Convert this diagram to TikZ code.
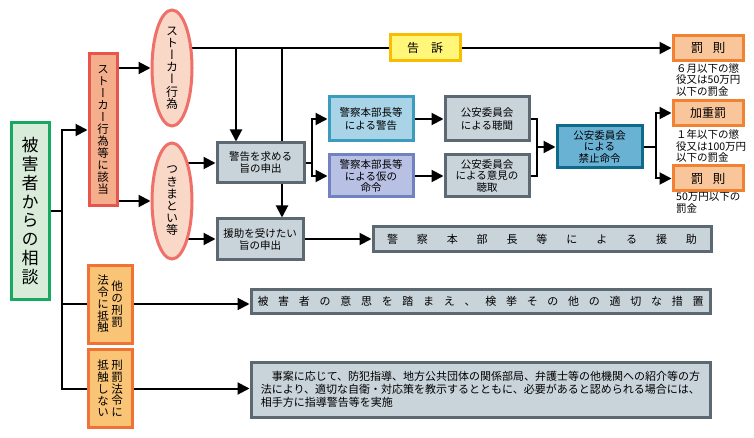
\documentclass[tikz,border=0pt]{standalone}
\usepackage{fontspec}
\setmainfont{Noto Sans CJK JP}
\newfontfamily\jpv[RawFeature=+vert]{Noto Sans CJK JP}
\usetikzlibrary{arrows.meta,shapes.geometric,backgrounds,calc}
\definecolor{greenb}{HTML}{18A862}
\definecolor{greenf}{HTML}{D8ECD9}
\definecolor{stalkb}{HTML}{E8554C}
\definecolor{stalkf}{HTML}{F4AE8C}
\definecolor{ellb}{HTML}{EE7068}
\definecolor{ellf}{HTML}{FAD8C8}
\definecolor{grayb}{HTML}{5C6872}
\definecolor{grayf}{HTML}{C9D3DA}
\definecolor{blueb}{HTML}{3C9CBE}
\definecolor{bluef}{HTML}{A9D4E8}
\definecolor{lavb}{HTML}{7082C2}
\definecolor{lavf}{HTML}{B8C0E4}
\definecolor{kinshib}{HTML}{0E6A8A}
\definecolor{kinshif}{HTML}{6AB2D4}
\definecolor{batsub}{HTML}{F08232}
\definecolor{batsuf}{HTML}{F9C59A}
\definecolor{orb}{HTML}{F07234}
\definecolor{orf}{HTML}{F9C476}
\definecolor{kokub}{HTML}{F8BC00}
\definecolor{kokuf}{HTML}{FFF67A}
\newcommand\fs[2]{\fontsize{#1}{#2}\selectfont}
\begin{document}
\begin{tikzpicture}[x=1pt,y=-1pt,
  ln/.style={line width=2pt,line cap=rect},
  arr/.style={line width=2pt,-{Triangle[length=12pt,width=12pt]}},
  bx/.style={draw,line width=3pt,inner sep=0pt,align=center},
  gbox/.style={bx,draw=grayb,fill=grayf,font=\fs{10.5}{12}},
  vt/.style={inner sep=0pt,align=center,font=\jpv\fs{12}{12.2}},
  ell/.style={ellipse,draw=ellb,fill=ellf,line width=3pt,minimum width=40pt,minimum height=116pt,inner sep=0pt},
  pbox/.style={bx,draw=batsub,fill=batsuf,minimum width=70pt,minimum height=25pt,font=\fs{12.5}{14}},
  obox/.style={bx,draw=orb,fill=orf,minimum width=44pt,minimum height=78pt},
  note/.style={inner sep=0pt,align=left,anchor=north west,font=\fs{10.5}{11.8}}
]
\useasboundingbox (0,0) rectangle (754,438);

% left
\node[bx,draw=greenb,fill=greenf,minimum width=38pt,minimum height=176pt] (main) at (30,211) {};
\node[vt,font=\jpv\fs{17}{18.8}] (maint) at (main.center) {被\\害\\者\\か\\ら\\の\\相\\談};

\node[bx,draw=stalkb,fill=stalkf,minimum width=28pt,minimum height=152pt] (stalk) at (103,130) {};
\node[vt,font=\jpv\fs{11.5}{12}] (stalkt) at (stalk.center) {ス\\ト\\ー\\カ\\ー\\行\\為\\等\\に\\該\\当};

\node[ell] (e1) at (172,68) {};
\node[vt] (e1t) at (e1.center) {ス\\ト\\ー\\カ\\ー\\行\\為};
\node[ell] (e2) at (172,201) {};
\node[vt] (e2t) at (e2.center) {つ\\き\\ま\\と\\い\\等};

\node[obox] (oth) at (110,304) {};
\node[vt,font=\jpv\fs{11.5}{11.8}] (othR) at ($(oth.center)+(7,0)$) {他\\の\\刑\\罰};
\node[vt,font=\jpv\fs{11.5}{11.8}] (othL) at ($(oth.center)+(-7,0)$) {法\\令\\に\\抵\\触};
\node[obox] (nai) at (110,388.5) {};
\node[vt,font=\jpv\fs{11.5}{11.8}] (naiR) at ($(nai.center)+(7,0)$) {刑\\罰\\法\\令\\に};
\node[vt,font=\jpv\fs{11.5}{11.8}] (naiL) at ($(nai.center)+(-7,0)$) {抵\\触\\し\\な\\い};

% middle
\node[gbox,minimum width=87pt,minimum height=40pt] (keikoku) at (260.5,163) {警告を求める\\旨の申出};
\node[gbox,minimum width=86pt,minimum height=40pt] (enjomo) at (260,239) {援助を受けたい\\旨の申出};
\node[gbox,draw=blueb,fill=bluef,minimum width=84pt,minimum height=44pt,font=\fs{10.5}{12.5}] (kblue) at (371,119) {警察本部長等\\による警告};
\node[gbox,draw=lavb,fill=lavf,minimum width=84pt,minimum height=42pt,font=\fs{10.5}{11.8}] (kari) at (371,176) {警察本部長等\\による仮の\\命令};
\node[gbox,minimum width=84pt,minimum height=44pt,font=\fs{10.5}{12.5}] (choumon) at (487,119) {公安委員会\\による聴聞};
\node[gbox,minimum width=84pt,minimum height=42pt,font=\fs{10.5}{11.8}] (choushu) at (487,176) {公安委員会\\による意見の\\聴取};
\node[gbox,draw=kinshib,fill=kinshif,minimum width=85pt,minimum height=42pt,font=\fs{10.5}{11.7}] (kinshi) at (599.5,147) {公安委員会\\による\\禁止命令};

\node[bx,draw=kokub,fill=kokuf,minimum width=70pt,minimum height=26pt,font=\fs{12}{14}] (koku) at (425,48) {告\hspace{12pt}訴};

% right
\node[pbox] (batsu1) at (708,48) {罰\hspace{9.5pt}則};
\node[pbox,font=\fs{12}{14}] (kaju) at (708,113) {加重罰};
\node[pbox] (batsu2) at (708,178.5) {罰\hspace{9.5pt}則};
\node[note] (n1) at (676,63) {６月以下の懲\\役又は50万円\\以下の罰金};
\node[note,font=\fs{10.5}{11.5}] (n2) at (676,129.5) {１年以下の懲\\役又は100万円\\以下の罰金};
\node[note] (n3) at (676,192.5) {50万円以下の\\罰金};

% wide boxes
\node[gbox,minimum width=338pt,minimum height=24pt,font=\fs{11}{13}] (enjo) at (542,239)
  {\hbox to 310pt{警\hfill 察\hfill 本\hfill 部\hfill 長\hfill 等\hfill に\hfill よ\hfill る\hfill 援\hfill 助}};
\node[gbox,minimum width=459pt,minimum height=24pt,font=\fs{11}{13}] (ishi) at (480.5,301)
  {\hbox to 446pt{被\hfill 害\hfill 者\hfill の\hfill 意\hfill 思\hfill を\hfill 踏\hfill ま\hfill え\hfill 、\hfill 検\hfill 挙\hfill そ\hfill の\hfill 他\hfill の\hfill 適\hfill 切\hfill な\hfill 措\hfill 置}};
\node[gbox,align=left,minimum width=459pt,minimum height=55pt,font=\fs{11}{13.3}] (jian) at (480.5,389.5)
  {　事案に応じて、防犯指導、地方公共団体の関係部局、弁護士等の他機関への紹介等の方\\法により、適切な自衛・対応策を教示するとともに、必要があると認められる場合には、\\相手方に指導警告等を実施};

% connector junctions
\coordinate (j1) at (236,48);
\coordinate (j2) at (282,48);
\coordinate (tx) at (62,0);
\coordinate (brx) at (312,0);
\coordinate (mx) at (537,0);
\coordinate (px) at (656,0);

\begin{pgfonlayer}{background}
\draw[arr] (batsu1.west -| e1.45) -- (batsu1.west);
\draw[arr] (j1) -- (j1 |- keikoku.north);
\draw[arr] (j2) -- (j2 |- enjomo.north);
\draw[arr] (keikoku.west -| e2.68) -- (keikoku.west);
\draw[arr] (enjomo.west -| e2.-68) -- (enjomo.west);
\draw[arr] (enjomo.east) -- (enjomo.east -| enjo.west);
\draw[arr] (e1.west -| stalk.east) -- (e1.west);
\draw[arr] (e2.west -| stalk.east) -- (e2.west);
\draw[ln] (main.east) -- (main.east -| tx);
\draw[ln] (tx |- stalk.west) -- (tx |- nai.west);
\draw[arr] (tx |- stalk.west) -- (stalk.west);
\draw[ln] (tx |- oth.west) -- (oth.west);
\draw[ln] (tx |- nai.west) -- (nai.west);
\draw[arr] (oth.east) -- (oth.east -| ishi.west);
\draw[arr] (nai.east) -- (nai.east -| jian.west);
\draw[ln] (keikoku.east) -- (keikoku.east -| brx);
\draw[ln] (brx |- kblue.west) -- (brx |- kari.west);
\draw[arr] (brx |- kblue.west) -- (kblue.west);
\draw[arr] (brx |- kari.west) -- (kari.west);
\draw[arr] (kblue.east) -- (choumon.west);
\draw[arr] (kari.east) -- (choushu.west);
\draw[ln] (choumon.east) -- (choumon.east -| mx) -- (choushu.east -| mx) -- (choushu.east);
\draw[arr] (kinshi.west -| mx) -- (kinshi.west);
\draw[ln] (kinshi.east) -- (kinshi.east -| px);
\draw[ln] (px |- kaju.west) -- (px |- batsu2.west);
\draw[arr] (px |- kaju.west) -- (kaju.west);
\draw[arr] (px |- batsu2.west) -- (batsu2.west);
\end{pgfonlayer}
\end{tikzpicture}
\end{document}
